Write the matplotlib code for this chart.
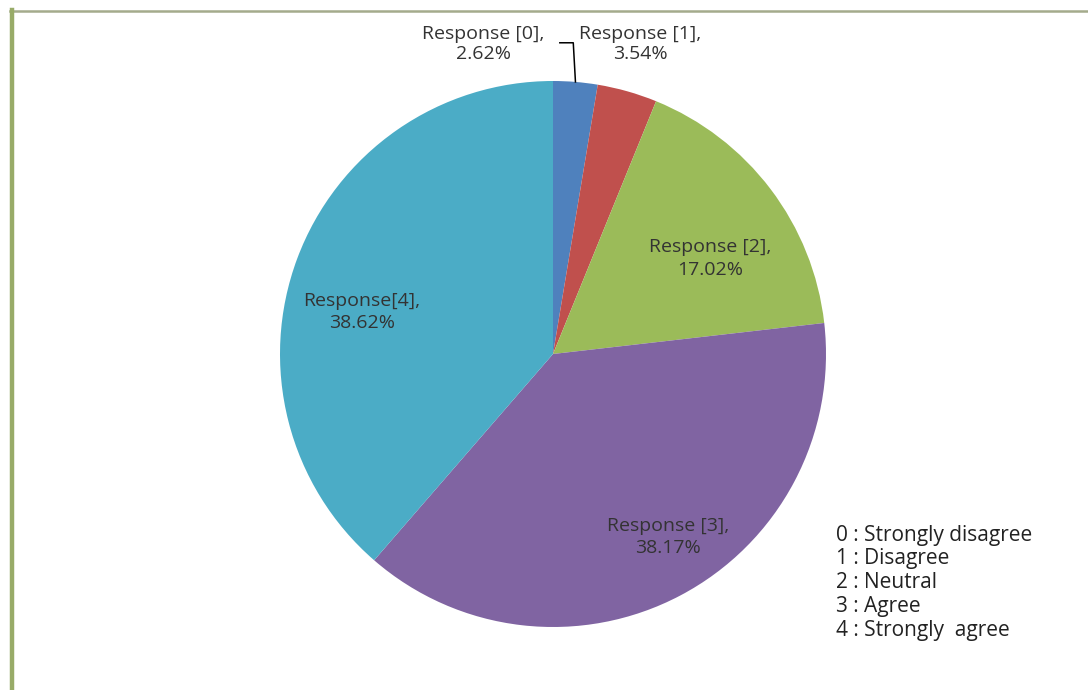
import matplotlib.pyplot as plt
import numpy as np
from matplotlib.lines import Line2D

# Survey responses (percent)
categories = ['Response [0]', 'Response [1]', 'Response [2]', 'Response [3]', 'Response[4]']
shares = [2.62, 3.54, 17.02, 38.17, 38.62]
colors = ['#4f81bd', '#c0504d', '#9bbb59', '#8064a2', '#4bacc6']
legend_lines = ['0 : Strongly disagree', '1 : Disagree', '2 : Neutral', '3 : Agree', '4 : Strongly  agree']

# label positions (data units, pie radius = 1)
label_xy = [(-0.255, 1.135), (0.32, 1.135), (0.575, 0.35), (0.42, -0.67), (-0.70, 0.155)]

plt.rcParams['font.family'] = ['Open Sans', 'DejaVu Sans']

fig = plt.figure(figsize=(10.88, 6.9), dpi=100)
ax = fig.add_axes([0, 0, 1, 1])

# pie centre at pixel (553, 354), radius 273 px
r_px = 273.0
cx, cy = 553.0, 354.0

wedges, _ = ax.pie(shares, colors=colors, startangle=90, counterclock=False,
                   wedgeprops=dict(linewidth=0), radius=1.0, center=(0, 0), frame=True)
ax.set_xlim(-cx / r_px, (1088 - cx) / r_px)
ax.set_ylim(-(690 - cy) / r_px, cy / r_px)
ax.set_aspect('auto')
ax.axis('off')

for i, (name, val, (lx, ly)) in enumerate(zip(categories, shares, label_xy)):
    ax.text(lx, ly, f'{name},\n{val:.2f}%', ha='center', va='center',
            fontsize=14, color='#333333', linespacing=1.15 if i < 2 else 1.3)

# leader line for the smallest slice
w0 = wedges[0]
mid = np.deg2rad((w0.theta1 + w0.theta2) / 2)
ex, ey = np.cos(mid), np.sin(mid)
ax.plot([0.025, ex - 0.008, ex], [1.14, 1.14, ey], color='black', linewidth=1.1)

ax.text(1.035, -0.625, '\n'.join(legend_lines), ha='left', va='top',
        fontsize=15, color='#222222', linespacing=1.17)

# chart border (top and left only)
fig.add_artist(Line2D([10 / 1088, 1], [1 - 11 / 690, 1 - 11 / 690],
                      transform=fig.transFigure, color='#a4ab8c', linewidth=1.8))
fig.add_artist(Line2D([12 / 1088, 12 / 1088], [0, 1 - 10 / 690],
                      transform=fig.transFigure, color='#98ab68', linewidth=3.2))

fig.savefig('out.png', dpi=100, facecolor='white')
